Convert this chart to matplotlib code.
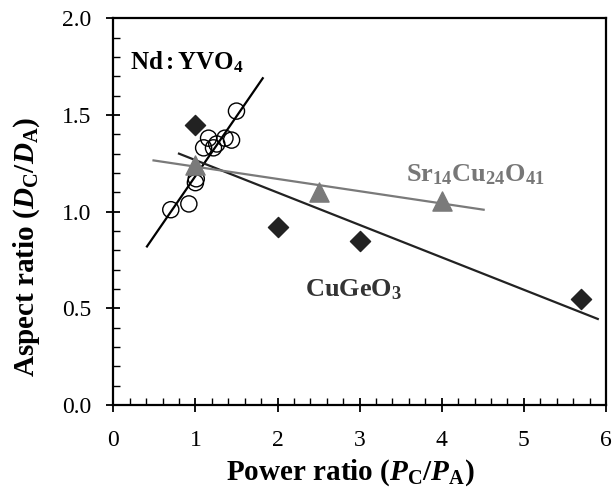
import matplotlib
matplotlib.use("Agg")
import matplotlib.pyplot as plt
from matplotlib.ticker import MultipleLocator, FormatStrFormatter

plt.rcParams['font.family'] = ['Liberation Serif', 'DejaVu Serif']
plt.rcParams['mathtext.fontset'] = 'custom'
plt.rcParams['mathtext.rm'] = 'Liberation Serif'
plt.rcParams['mathtext.it'] = 'Liberation Serif:italic'
plt.rcParams['mathtext.bf'] = 'Liberation Serif:bold'
plt.rcParams['mathtext.bfit'] = 'Liberation Serif:italic:bold'

# Nd:YVO4 (open circles)
nd_x = [0.70, 0.92, 1.00, 1.01, 1.10, 1.16, 1.22, 1.26, 1.36, 1.44, 1.50]
nd_y = [1.01, 1.04, 1.15, 1.17, 1.33, 1.38, 1.33, 1.35, 1.38, 1.37, 1.52]
nd_fit_x = [0.41, 1.82]
nd_fit_y = [0.82, 1.69]

# CuGeO3 (black diamonds)
cu_x = [1.0, 2.0, 3.0, 5.7]
cu_y = [1.45, 0.92, 0.85, 0.55]
cu_fit_x = [0.80, 5.90]
cu_fit_y = [1.30, 0.445]

# Sr14Cu24O41 (grey triangles)
sr_x = [1.0, 2.5, 4.0]
sr_y = [1.24, 1.10, 1.055]
sr_fit_x = [0.49, 4.51]
sr_fit_y = [1.265, 1.01]

x_ticks = [0, 1, 2, 3, 4, 5, 6]
y_ticks = [0.0, 0.5, 1.0, 1.5, 2.0]

fig = plt.figure(figsize=(6.13, 4.96), dpi=100)
ax = fig.add_axes([113.3/613, 1-405/496, (606-113.3)/613, (405-18.3)/496])

grey = '#7a7a7a'
dark = '#222222'

ax.plot(nd_fit_x, nd_fit_y, color='black', lw=1.6, zorder=2)
ax.plot(cu_fit_x, cu_fit_y, color=dark, lw=1.6, zorder=2)
ax.plot(sr_fit_x, sr_fit_y, color=grey, lw=1.6, zorder=2)

ax.scatter(nd_x, nd_y, s=135, facecolors='none', edgecolors='black', linewidths=1.0, zorder=3)
ax.scatter(cu_x, cu_y, marker='D', s=105, color=dark, zorder=3)
ax.scatter(sr_x, sr_y, marker='^', s=190, color=grey, zorder=4)

ax.set_xlim(0, 6)
ax.set_ylim(0, 2.0)
ax.set_xticks(x_ticks)
ax.set_yticks(y_ticks)
ax.yaxis.set_major_formatter(FormatStrFormatter('%.1f'))
ax.xaxis.set_minor_locator(MultipleLocator(0.2))
ax.yaxis.set_minor_locator(MultipleLocator(0.1))
ax.tick_params(which='major', direction='inout', length=10, width=1.3, labelsize=17, pad=11)
ax.tick_params(axis='x', which='major', pad=13)
ax.tick_params(which='minor', direction='in', length=5, width=1.0)
ax.tick_params(top=False, right=False)
for sp in ax.spines.values():
    sp.set_linewidth(1.6)

ax.set_xlabel(r'Power ratio ($\mathbfit{P}_\mathbf{C}\mathbf{/}\mathbfit{P}_\mathbf{A}$)',
              fontsize=21, fontweight='bold')
ax.xaxis.set_label_coords(0.482, -0.135)
ax.set_ylabel(r'Aspect ratio ($\mathbfit{D}_\mathbf{C}\mathbf{/}\mathbfit{D}_\mathbf{A}$)',
              fontsize=21, fontweight='bold')
ax.yaxis.set_label_coords(-0.145, 0.41)

ax.text(0.2, 1.738, r'$\mathbf{Nd{:}YVO}_\mathbf{4}$', fontsize=18, color='black')
ax.text(3.57, 1.155, r'$\mathbf{Sr}_\mathbf{14}\mathbf{Cu}_\mathbf{24}\mathbf{O}_\mathbf{41}$', fontsize=19, color='#777777')
ax.text(2.33, 0.56, r'$\mathbf{CuGeO}_\mathbf{3}$', fontsize=19, color='#333333')

fig.savefig('out.png', dpi=100)
